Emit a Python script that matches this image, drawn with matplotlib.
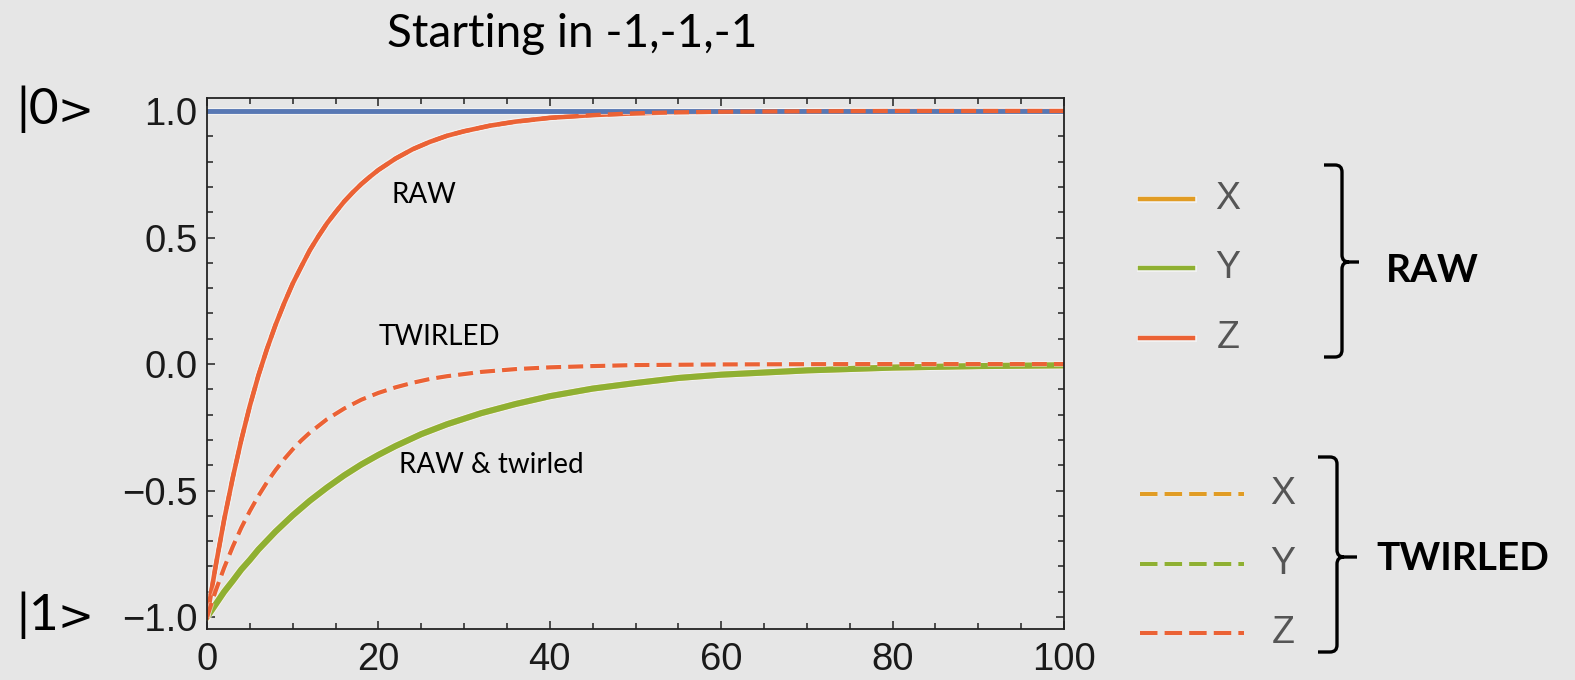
import matplotlib
matplotlib.use("Agg")
import matplotlib.pyplot as plt
import matplotlib.patheffects as pe
from matplotlib.lines import Line2D
from matplotlib.path import Path
from matplotlib.patches import PathPatch
import matplotlib.transforms as mtransforms
from matplotlib.ticker import MultipleLocator

# ---- data -------------------------------------------------------------
t_raw_z = [0, 1, 2, 3, 4, 5, 6, 7, 8, 9, 10, 11, 12, 13, 14, 15, 16, 17, 18,
           19, 20, 22, 24, 26, 28, 30, 33, 36, 40, 45, 50, 55, 60, 70, 80, 100]
z_raw = [-1.0, -0.80, -0.615, -0.45, -0.30, -0.165, -0.045, 0.06, 0.155,
         0.24, 0.318, 0.385, 0.45, 0.505, 0.556, 0.60, 0.642, 0.678, 0.711,
         0.74, 0.767, 0.812, 0.849, 0.878, 0.902, 0.92, 0.942, 0.958, 0.973,
         0.984, 0.991, 0.995, 0.997, 0.999, 1.0, 1.0]

t_twirl_z = [0, 1, 2, 3, 4, 5, 6, 7, 8, 9, 10, 11, 12, 14, 16, 18, 20, 22,
             24, 26, 28, 32, 36, 40, 45, 50, 60, 70, 80, 100]
z_twirled = [-1.0, -0.897, -0.805, -0.722, -0.647, -0.581, -0.521, -0.467,
             -0.419, -0.376, -0.337, -0.302, -0.271, -0.218, -0.176, -0.141,
             -0.114, -0.092, -0.074, -0.059, -0.048, -0.031, -0.020, -0.013,
             -0.008, -0.004, -0.0015, -0.0005, 0.0, 0.0]

t_xy = [0, 1, 2, 3, 4, 5, 6, 8, 10, 12, 14, 16, 18, 20, 22, 25, 28, 32, 36,
        40, 45, 50, 55, 60, 70, 80, 90, 100]
xy_values = [-1.0, -0.95, -0.90, -0.857, -0.812, -0.774, -0.733, -0.662,
             -0.598, -0.54, -0.488, -0.44, -0.397, -0.359, -0.324, -0.277,
             -0.238, -0.194, -0.158, -0.127, -0.097, -0.075, -0.055, -0.042,
             -0.025, -0.014, -0.008, -0.005]

t_ref = [0, 100]
ref_level = [1.0, 1.0]

y_ticks = [-1.0, -0.5, 0.0, 0.5, 1.0]
x_ticks = [0, 20, 40, 60, 80, 100]

legend_labels = ["X", "Y", "Z"]

# ---- style ------------------------------------------------------------
BG = "#e6e6e6"
C_X = "#e19c24"
C_Y = "#8fb032"
C_Z = "#eb6235"
C_REF = "#5878b4"
W, H = 1575, 680

fig = plt.figure(figsize=(W / 100, H / 100), dpi=100, facecolor=BG)
ax = fig.add_axes([207 / W, 1 - 629 / H, (1064 - 207) / W, (629 - 98) / H])
ax.set_facecolor(BG)

halo = [pe.Stroke(linewidth=5.0, foreground="white", alpha=0.5), pe.Normal()]
halo_thick = [pe.Stroke(linewidth=5.8, foreground="white", alpha=0.5), pe.Normal()]
halo_dash = [pe.Stroke(linewidth=4.2, foreground="white", alpha=0.5), pe.Normal()]

dash = (0, (3.6, 1.7))

# X and Y relax identically, raw and twirled
ax.plot(t_xy, xy_values, color=C_X, lw=2.0, ls=dash, zorder=1)
ax.plot(t_xy, xy_values, color=C_Y, lw=2.0, ls=dash, zorder=1)
ax.plot(t_xy, xy_values, color=C_X, lw=4.4, zorder=2)
ax.plot(t_xy, xy_values, color=C_Y, lw=4.4, zorder=2.1, path_effects=halo_thick,
        solid_joinstyle="round")

# Z raw
ax.plot(t_raw_z, z_raw, color=C_Z, lw=3.3, zorder=2.2, path_effects=halo,
        solid_joinstyle="round")
# reference level |0>
ax.plot(t_ref, ref_level, color=C_REF, lw=3.5, zorder=2.3, path_effects=halo)
ax.plot(t_raw_z, z_raw, color=C_Z, lw=3.0, ls=dash, zorder=2.4)
# Z twirled
ax.plot(t_twirl_z, z_twirled, color=C_Z, lw=3.0, ls=dash, zorder=2.5,
        path_effects=halo_dash)

ax.set_xlim(0, 100)
ax.set_ylim(-1.047, 1.0514)
ax.set_xticks(x_ticks)
ax.set_yticks(y_ticks)
ax.xaxis.set_minor_locator(MultipleLocator(5))
ax.yaxis.set_minor_locator(MultipleLocator(0.1))
ax.tick_params(which="both", direction="in", top=True, right=True,
               color="#222222", width=1.1)
ax.tick_params(which="major", length=6)
ax.tick_params(which="minor", length=4)
ax.tick_params(axis="x", which="major", pad=9)
ax.tick_params(axis="y", which="major", pad=7)
for lab in ax.get_xticklabels() + ax.get_yticklabels():
    lab.set_fontfamily("Liberation Sans")
    lab.set_fontsize(27.5)
    lab.set_color("#1a1a1a")
for s in ax.spines.values():
    s.set_linewidth(1.3)
    s.set_color("#222222")

# in-plot annotations
txt_font = dict(family="Lato", fontsize=20, color="black")
ax.text(25.3, 0.668, "RAW", ha="center", va="center", **txt_font)
ax.text(27.1, 0.107, "TWIRLED", ha="center", va="center", **txt_font)
ax.text(33.2, -0.40, "RAW & twirled", ha="center", va="center", **txt_font)

# pixel-space transform for figure decorations (origin top-left)
px = mtransforms.Affine2D().scale(1 / W, -1 / H).translate(0, 1) + fig.transFigure

fig.text(572, 47, "Starting in -1,-1,-1", transform=px, family="Lato",
         fontsize=33, ha="center", va="baseline", color="black")

# state labels |0> and |1>
for digit, base in (("0", 124), ("1", 630)):
    fig.text(16, base, "|" + digit, transform=px, family="Lato", fontsize=37,
             ha="left", va="baseline", color="black")
    fig.text(57, base, ">", transform=px, family="DejaVu Sans", fontsize=31,
             ha="left", va="baseline", color="black")

# legend: solid (raw) and dashed (twirled)
colors = [C_X, C_Y, C_Z]
raw_rows = [199, 268, 338]
tw_rows = [494, 564, 633]
for lab, c, y in zip(legend_labels, colors, raw_rows):
    fig.add_artist(Line2D([1140, 1193], [y, y], transform=px, color=c, lw=3.2,
                          path_effects=halo))
    fig.text(1228, y, lab, transform=px, family="Liberation Sans",
             fontsize=27, color="#555555", ha="center", va="center")
for lab, c, y in zip(legend_labels, colors, tw_rows):
    fig.add_artist(Line2D([1140, 1244], [y, y], transform=px, color=c, lw=3.0,
                          ls=(0, (4.2, 1.7)), path_effects=halo_dash))
    fig.text(1283, y, lab, transform=px, family="Liberation Sans",
             fontsize=27, color="#555555", ha="center", va="center")


def brace(x_left, x_spine, x_tip, y_top, y_mid, y_bot):
    r = 7
    verts = [(x_left, y_top), (x_spine - r, y_top),
             (x_spine, y_top), (x_spine, y_top + r),
             (x_spine, y_mid - r),
             (x_spine, y_mid), (x_spine + r, y_mid),
             (x_tip, y_mid),
             (x_spine + r, y_mid), (x_spine, y_mid), (x_spine, y_mid + r),
             (x_spine, y_bot - r),
             (x_spine, y_bot), (x_spine - r, y_bot),
             (x_left, y_bot)]
    codes = [Path.MOVETO, Path.LINETO,
             Path.CURVE3, Path.CURVE3,
             Path.LINETO,
             Path.CURVE3, Path.CURVE3,
             Path.LINETO,
             Path.MOVETO, Path.CURVE3, Path.CURVE3,
             Path.LINETO,
             Path.CURVE3, Path.CURVE3,
             Path.LINETO]
    fig.add_artist(PathPatch(Path(verts, codes), transform=px, fill=False,
                             edgecolor="black", lw=2.4, capstyle="butt"))


brace(1324, 1342, 1359, 165, 262, 357)
brace(1318, 1337, 1357, 457, 557, 652)

fig.text(1386, 270, "RAW", transform=px, family="Lato", fontweight="bold",
         fontsize=28, ha="left", va="center", color="black")
fig.text(1376, 558, "TWIRLED", transform=px, family="Lato", fontweight="bold",
         fontsize=28, ha="left", va="center", color="black")

fig.savefig("out.png", dpi=100, facecolor=BG)
